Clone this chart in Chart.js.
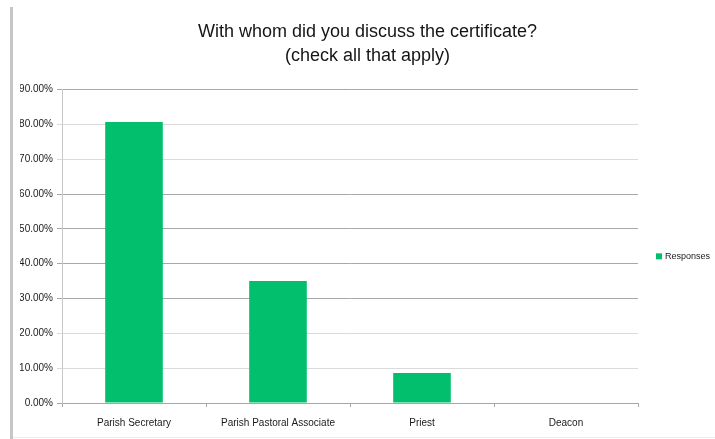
<!DOCTYPE html>
<html>
<head>
<meta charset="utf-8">
<script src="https://cdn.jsdelivr.net/npm/chart.js@4"></script>
<style>
html,body{margin:0;padding:0;background:#fff;}
#wrap{width:715px;height:439px;position:relative;}
</style>
</head>
<body>
<div id="wrap"><canvas id="c" width="715" height="439"></canvas></div>
<script>
const categories = ["Parish Secretary", "Parish Pastoral Associate", "Priest", "Deacon"];
const responses = [80.7, 35.0, 8.6, 0];
const seriesName = "Responses";
const titleLines = ["With whom did you discuss the certificate?", "(check all that apply)"];
const yMax = 90;
const yStep = 10;
const darkGridValues = [0, 30, 40, 50, 60, 90];

const FONT = "'Liberation Sans Narrow', 'Arial Narrow', 'Liberation Sans', Arial, sans-serif";

const framePlugin = {
  id: 'frame',
  beforeDraw(chart) {
    const ctx = chart.ctx;
    ctx.save();
    ctx.fillStyle = '#ffffff';
    ctx.fillRect(0, 0, chart.width, chart.height);
    ctx.strokeStyle = '#c6c6c6';
    ctx.lineWidth = 3;
    ctx.beginPath();
    ctx.moveTo(11.5, 7);
    ctx.lineTo(11.5, chart.height);
    ctx.stroke();
    ctx.strokeStyle = '#ececec';
    ctx.lineWidth = 1;
    ctx.beginPath();
    ctx.moveTo(13, chart.height - 1.5);
    ctx.lineTo(chart.width, chart.height - 1.5);
    ctx.stroke();
    ctx.restore();
  }
};

// Legend drawn beside the plot, from the dataset's own label and colour
const sideLegendPlugin = {
  id: 'sideLegend',
  afterDraw(chart) {
    const ctx = chart.ctx;
    const area = chart.chartArea;
    const y = chart.scales.y.getPixelForValue(yMax * 0.468);
    ctx.save();
    chart.data.datasets.forEach((ds, i) => {
      const x = area.right + 18;
      const yy = y + i * 14;
      ctx.fillStyle = ds.backgroundColor;
      ctx.fillRect(x, yy - 3, 6, 6);
      ctx.fillStyle = '#1a1a1a';
      ctx.font = '9px ' + FONT;
      ctx.textBaseline = 'middle';
      ctx.textAlign = 'left';
      ctx.fillText(ds.label, x + 9, yy);
    });
    ctx.restore();
  }
};

new Chart(document.getElementById('c'), {
  type: 'bar',
  data: {
    labels: categories,
    datasets: [{
      label: seriesName,
      data: responses,
      backgroundColor: '#02bf6d',
      borderWidth: 0,
      barPercentage: 0.4,
      categoryPercentage: 1.0
    }]
  },
  options: {
    responsive: false,
    animation: false,
    devicePixelRatio: 1,
    layout: { padding: { left: 20, right: 0, top: 0, bottom: 3 } },
    plugins: {
      title: {
        display: true,
        text: titleLines,
        color: '#151515',
        font: { family: FONT, size: 18, weight: 'normal', lineHeight: 1.35 },
        padding: { top: 20, bottom: 21 }
      },
      legend: { display: false },
      tooltip: { enabled: false }
    },
    scales: {
      x: {
        afterFit(scale) { scale.height = 33; },
        grid: {
          display: true,
          drawOnChartArea: false,
          drawTicks: true,
          tickLength: 4,
          color: '#a6a6a6',
          offset: true
        },
        border: { display: true, color: '#a6a6a6' },
        ticks: {
          color: '#1a1a1a',
          font: { family: FONT, size: 10 },
          padding: 10,
          maxRotation: 0
        }
      },
      y: {
        min: 0,
        max: yMax,
        afterFit(scale) { scale.width = 42; },
        grid: {
          color: (ctx) => darkGridValues.includes(ctx.tick ? ctx.tick.value : -1) ? '#a8a8a8' : '#dadada',
          tickLength: 5,
          drawTicks: true
        },
        border: { display: true, color: '#c8c8c8' },
        ticks: {
          stepSize: yStep,
          padding: 4,
          color: '#1a1a1a',
          font: { family: FONT, size: 10 },
          callback: (v) => Number(v).toFixed(2) + '%'
        }
      },
      legendSpace: {
        type: 'linear',
        position: 'right',
        display: true,
        afterFit(scale) { scale.width = 77; },
        grid: { display: false, drawTicks: false },
        border: { display: false },
        ticks: { display: false }
      }
    }
  },
  plugins: [framePlugin, sideLegendPlugin]
});
</script>
</body>
</html>
